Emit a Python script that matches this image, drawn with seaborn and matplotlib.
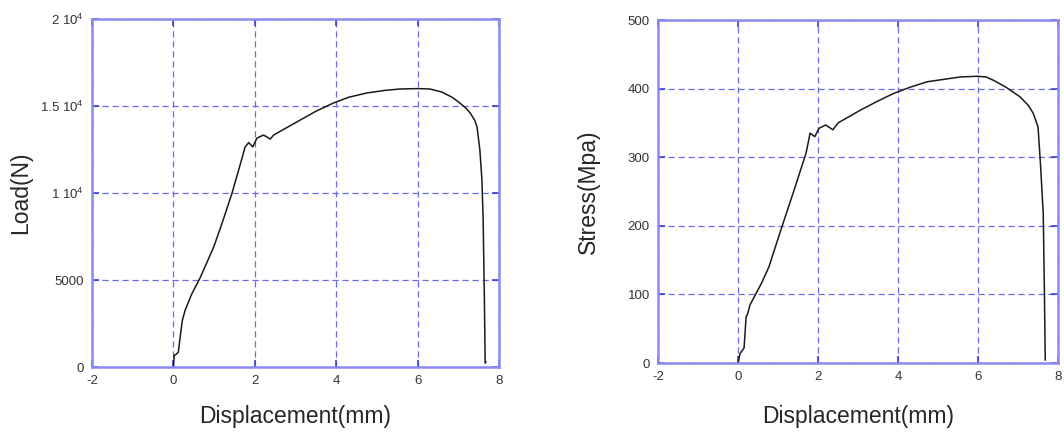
import matplotlib
matplotlib.use("Agg")
import matplotlib.pyplot as plt
import seaborn as sns
import pandas as pd

# Tensile test: load and engineering stress versus crosshead displacement
disp_load = [0, 0.02, 0.05, 0.12, 0.18, 0.22, 0.29, 0.45, 0.65, 0.99, 1.2, 1.44,
             1.6, 1.76, 1.85, 1.95, 2.05, 2.21, 2.28, 2.38, 2.46, 2.8, 3.12, 3.5,
             3.93, 4.3, 4.75, 5.2, 5.57, 6.0, 6.3, 6.6, 6.85, 7.04, 7.2, 7.29,
             7.4, 7.46, 7.53, 7.58, 7.61, 7.64, 7.66, 7.68]
load_n = [0, 690, 700, 860, 2000, 2700, 3280, 4200, 5100, 6900, 8300, 10000,
          11300, 12640, 12900, 12650, 13150, 13330, 13250, 13100, 13330, 13780,
          14200, 14700, 15170, 15500, 15750, 15900, 15980, 16000, 15980, 15800,
          15500, 15170, 14850, 14600, 14200, 13800, 12470, 10750, 8450, 4000,
          230, 290]

disp_stress = [0, 0.05, 0.15, 0.2, 0.24, 0.3, 0.41, 0.6, 0.77, 1.07, 1.4, 1.7,
               1.8, 1.92, 2.02, 2.19, 2.37, 2.5, 2.8, 3.07, 3.5, 3.89, 4.3, 4.73,
               5.2, 5.56, 5.98, 6.2, 6.39, 6.7, 7.05, 7.25, 7.38, 7.5, 7.56,
               7.63, 7.66, 7.68]
stress_mpa = [0, 14, 22, 67, 72, 85, 97, 118, 140, 194, 252, 306, 335, 330, 342,
              347, 340, 350, 360, 369, 382, 393, 402, 410, 414, 417, 418, 417,
              412, 402, 388, 376, 364, 344, 291, 218, 100, 4]

x_ticks = [-2, 0, 2, 4, 6, 8]
load_ticks = [0, 5000, 10000, 15000, 20000]
load_tick_labels = ["0", "5000", r"1 10$^4$", r"1.5 10$^4$", r"2 10$^4$"]
stress_ticks = [0, 100, 200, 300, 400, 500]

sns.set_style("white")
plt.rcParams["font.family"] = ["Liberation Sans", "DejaVu Sans"]
plt.rcParams["mathtext.fontset"] = "custom"
plt.rcParams["mathtext.rm"] = "Liberation Sans"

fig = plt.figure(figsize=(10.64, 4.37), dpi=100)
ax1 = fig.add_axes([0.0865, 0.160, 0.3825, 0.7965])
ax2 = fig.add_axes([0.6185, 0.1693, 0.3759, 0.7849])

df_load = pd.DataFrame({"Displacement(mm)": disp_load, "Load(N)": load_n})
df_stress = pd.DataFrame({"Displacement(mm)": disp_stress, "Stress(Mpa)": stress_mpa})

sns.lineplot(data=df_load, x="Displacement(mm)", y="Load(N)", ax=ax1,
             sort=False, estimator=None, color="#1a1a1a", linewidth=1.1)
sns.lineplot(data=df_stress, x="Displacement(mm)", y="Stress(Mpa)", ax=ax2,
             sort=False, estimator=None, color="#1a1a1a", linewidth=1.1)

spine_blue = "#8a8af0"
grid_blue = "#6a6ae8"

def style_axes(ax, yticks, ylabels, ylim, xlab_y, ylab_x):
    ax.set_xlim(-2, 8)
    ax.set_ylim(*ylim)
    ax.set_xticks(x_ticks)
    ax.set_xticklabels([str(t) for t in x_ticks])
    ax.set_yticks(yticks)
    ax.set_yticklabels(ylabels)
    ax.grid(True, color=grid_blue, linestyle=(0, (5, 3)), linewidth=0.9)
    ax.set_axisbelow(True)
    for s in ax.spines.values():
        s.set_color(spine_blue)
        s.set_linewidth(1.8)
        s.set_visible(True)
    ax.tick_params(axis="both", direction="in", length=5, width=1.2,
                   colors="#4040d8", labelcolor="#333333", labelsize=9.5,
                   top=True, right=True, left=True, bottom=True, pad=6)
    ax.xaxis.label.set_fontsize(16.5)
    ax.yaxis.label.set_fontsize(16.5)
    ax.xaxis.set_label_coords(0.5, xlab_y)
    ax.yaxis.set_label_coords(ylab_x, 0.5)

style_axes(ax1, load_ticks, load_tick_labels, (0, 20000), -0.11, -0.147)
style_axes(ax2, stress_ticks, [str(t) for t in stress_ticks], (0, 500), -0.123, -0.145)

fig.savefig("out.png", dpi=100, facecolor="white")
